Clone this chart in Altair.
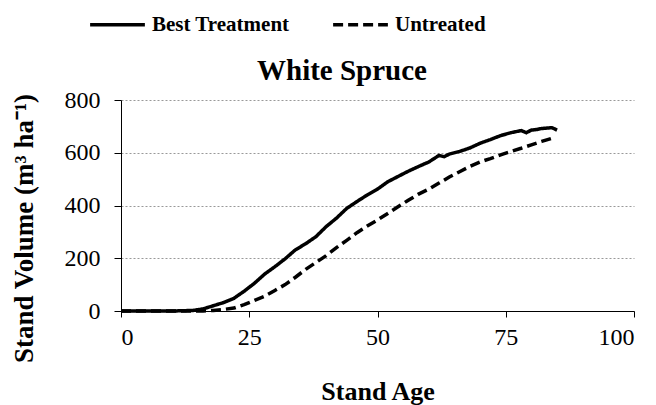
import altair as alt
import pandas as pd

# Best Treatment (solid)
best_age = [0, 5, 10, 14, 16, 18, 20, 22, 24, 26, 28, 30, 32, 34, 36, 38, 40, 42, 44, 46, 48,
            50, 52, 54, 56, 58, 60, 62, 63, 64, 66, 68, 70, 72, 74, 76, 78, 79, 80, 81, 82, 84, 85]
best_vol = [0, 0, 0, 2, 8, 20, 32, 48, 75, 105, 140, 168, 198, 232, 255, 282, 320, 352, 389, 415, 440,
            462, 490, 510, 530, 548, 565, 590, 585, 595, 605, 618, 636, 650, 665, 676, 684, 676, 686, 688, 692, 695, 686]

# Untreated (dashed)
untr_age = [0, 5, 10, 16, 18, 20, 22, 24, 26, 28, 30, 32, 34, 36, 38, 40, 42, 44, 46, 48, 50, 52,
            54, 56, 58, 60, 62, 64, 66, 68, 70, 72, 74, 76, 78, 80, 82, 84]
untr_vol = [0, 0, 0, 0, 2, 6, 11, 24, 40, 56, 78, 100, 128, 158, 184, 210, 240, 268, 297, 322, 345, 370,
            395, 420, 443, 462, 485, 508, 528, 548, 565, 578, 592, 605, 617, 630, 643, 655]

series = ["Best Treatment", "Untreated"]
chart_title = ["White Spruce"]

df = pd.concat([
    pd.DataFrame({"age": best_age, "vol": best_vol, "series": series[0]}),
    pd.DataFrame({"age": untr_age, "vol": untr_vol, "series": series[1]}),
])

FONT = "Liberation Serif"

lines = alt.Chart(df).mark_line(color="black", strokeWidth=3.5).encode(
    x=alt.X("age:Q", scale=alt.Scale(domain=[0, 100], nice=False),
            axis=alt.Axis(values=[0, 25, 50, 75, 100], title="Stand Age", grid=False,
                          tickSize=6, labelPadding=8, labelFontSize=24, labelFont=FONT,
                          titleFontSize=26, titleFont=FONT, titleFontWeight="bold",
                          titlePadding=29, domainColor="black", tickColor="black",
                          labelColor="black", titleColor="black")),
    y=alt.Y("vol:Q", scale=alt.Scale(domain=[0, 800], nice=False),
            axis=alt.Axis(values=[0, 200, 400, 600, 800], title="Stand Volume (m³ ha⁻¹)",
                          grid=True, gridDash=[2, 2], gridColor="#999999", gridWidth=1,
                          tickSize=7, labelPadding=14, labelFontSize=24, labelFont=FONT,
                          titleFontSize=27, titleFont=FONT, titleFontWeight="bold",
                          titlePadding=26, titleY=128, domainColor="black", tickColor="black",
                          labelColor="black", titleColor="black")),
    strokeDash=alt.StrokeDash("series:N",
                              scale=alt.Scale(domain=series, range=[[1, 0], [10, 5]]),
                              legend=alt.Legend(title=None, orient="none", direction="horizontal",
                                                legendX=-33, legendY=-105,
                                                symbolType="stroke", symbolSize=3000,
                                                symbolStrokeWidth=3.5, symbolStrokeColor="black",
                                                labelFont=FONT, labelFontSize=21,
                                                labelFontWeight="bold", labelColor="black",
                                                labelOffset=5, columnPadding=36, padding=0)),
    detail="series:N",
)

title = alt.Chart(pd.DataFrame({"t": chart_title})).mark_text(
    font=FONT, fontSize=29, fontWeight="bold", color="black", baseline="alphabetic", align="center"
).encode(text="t:N", x=alt.value(221), y=alt.value(-20))

chart = alt.layer(lines, title).properties(
    width=513, height=211,
    autosize=alt.AutoSizeParams(type="none"),
    padding={"left": 113, "top": 92, "right": 6, "bottom": 94},
).configure_view(stroke=None)

chart.save("out.html", embed_options={"renderer": "svg", "actions": False})
